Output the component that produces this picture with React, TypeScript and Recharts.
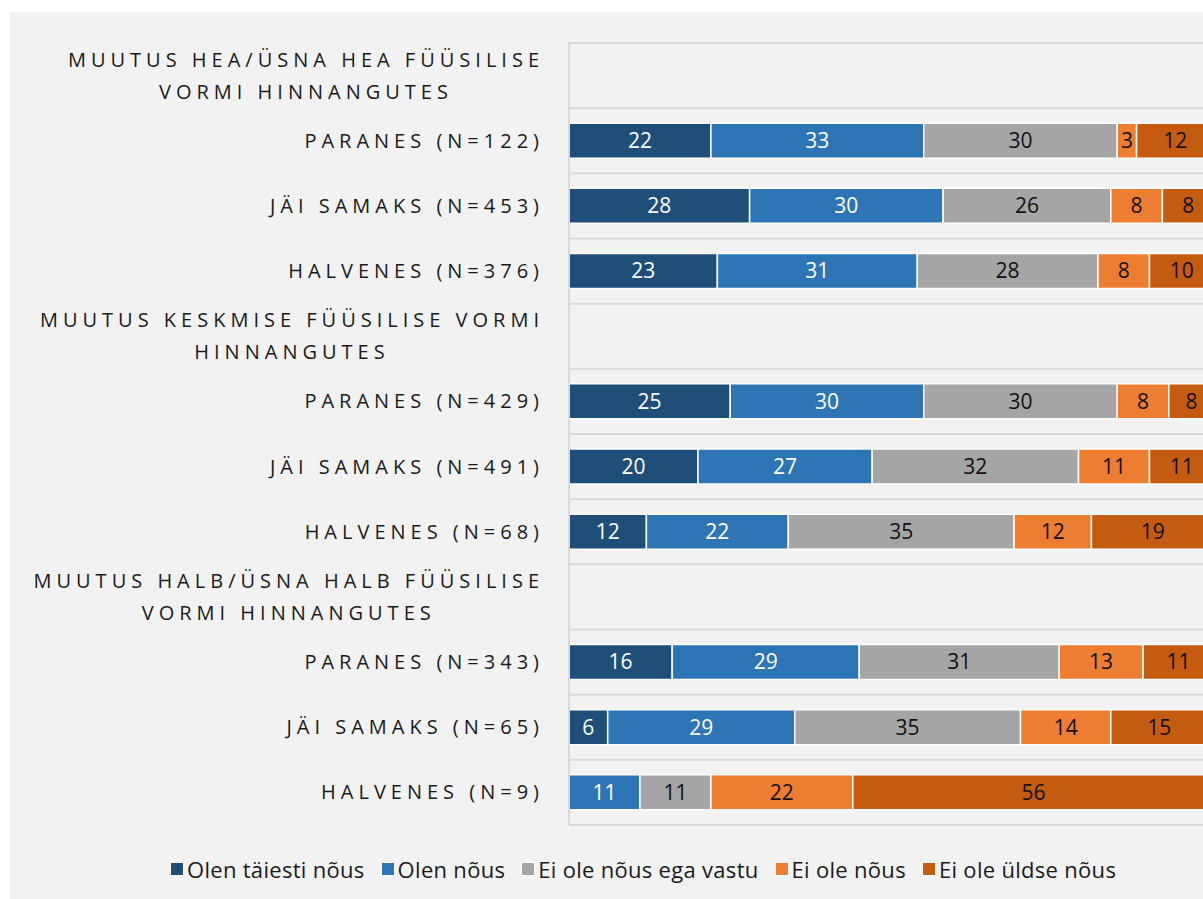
import React from "react";
import { Bar, BarChart, CartesianGrid, LabelList, Legend, XAxis, YAxis } from "recharts";

const categories = [
  "MUUTUS HEA/ÜSNA HEA FÜÜSILISE\nVORMI HINNANGUTES",
  "PARANES (N=122)",
  "JÄI SAMAKS (N=453)",
  "HALVENES (N=376)",
  "MUUTUS KESKMISE FÜÜSILISE VORMI\nHINNANGUTES",
  "PARANES (N=429)",
  "JÄI SAMAKS (N=491)",
  "HALVENES (N=68)",
  "MUUTUS HALB/ÜSNA HALB FÜÜSILISE\nVORMI HINNANGUTES",
  "PARANES (N=343)",
  "JÄI SAMAKS (N=65)",
  "HALVENES (N=9)",
];

// header rows have no bars
const taiestiNous = [0, 22, 28, 23, 0, 25, 20, 12, 0, 16, 6, 0];
const nous = [0, 33, 30, 31, 0, 30, 27, 22, 0, 29, 29, 11];
const egaVastu = [0, 30, 26, 28, 0, 30, 32, 35, 0, 31, 35, 11];
const eiNous = [0, 3, 8, 8, 0, 8, 11, 12, 0, 13, 14, 22];
const yldseEi = [0, 12, 8, 10, 0, 8, 11, 19, 0, 11, 15, 56];

const series = [
  { key: "s1", name: "Olen täiesti nõus", values: taiestiNous, color: "#1f4e79", text: "#ffffff" },
  { key: "s2", name: "Olen nõus", values: nous, color: "#2e75b6", text: "#ffffff" },
  { key: "s3", name: "Ei ole nõus ega vastu", values: egaVastu, color: "#a5a5a5", text: "#111111" },
  { key: "s4", name: "Ei ole nõus", values: eiNous, color: "#ed7d31", text: "#111111" },
  { key: "s5", name: "Ei ole üldse nõus", values: yldseEi, color: "#c55a11", text: "#111111" },
];

const data = categories.map((name, i) => {
  const row: Record<string, string | number> = { name };
  series.forEach((s) => (row[s.key] = s.values[i]));
  return row;
});

const FONT = "'Open Sans', 'Noto Sans', sans-serif";
const TICK_SPACING = 5;
const TICK_SIZE = 20;

let ctx: CanvasRenderingContext2D | null = null;
function measure(text: string): number {
  if (!ctx) ctx = document.createElement("canvas").getContext("2d");
  if (!ctx) return text.length * 12;
  ctx.font = `${TICK_SIZE}px ${FONT}`;
  (ctx as any).letterSpacing = `${TICK_SPACING}px`;
  return ctx.measureText(text).width;
}

function CategoryTick({ x, y, payload }: any) {
  const lines = String(payload.value).split("\n");
  const widths = lines.map(measure);
  const w = Math.max(...widths);
  const cx = x - w / 2 + TICK_SPACING;
  return (
    <g>
      {lines.map((line, i) => (
        <text
          key={i}
          x={cx}
          y={y + (i - (lines.length - 1) / 2) * 32}
          dy="0.35em"
          textAnchor="middle"
          fill="#1a1a1a"
          fontSize={TICK_SIZE}
          fontFamily={FONT}
          letterSpacing={TICK_SPACING}
        >
          {line}
        </text>
      ))}
    </g>
  );
}

function LegendContent() {
  return (
    <div style={{ display: "flex", alignItems: "center", fontFamily: FONT, fontSize: 22, letterSpacing: 0.3, color: "#1a1a1a" }}>
      {series.map((s) => (
        <div key={s.key} style={{ display: "flex", alignItems: "center", marginRight: 16 }}>
          <span style={{ width: 12, height: 12, background: s.color, border: "1px solid #fff", marginRight: 3 }} />
          <span>{s.name}</span>
        </div>
      ))}
    </div>
  );
}

export default function App() {
  return (
    <div
      style={{
        position: "absolute",
        left: 10,
        top: 12,
        width: 1193,
        height: 887,
        background: "#f2f2f2",
        overflow: "hidden",
      }}
    >
      <BarChart
        width={1204}
        height={887}
        data={data}
        layout="vertical"
        margin={{ top: 31, right: 0, bottom: 46, left: 0 }}
        barSize={35}
      >
        <CartesianGrid
          vertical={false}
          stroke="#d9d9d9"
          strokeWidth={2}
          horizontalCoordinatesGenerator={({ offset }: any) =>
            categories.map((_, i) => offset.top + (i * offset.height) / categories.length).concat(offset.top + offset.height)
          }
        />
        <XAxis type="number" domain={[0, 100]} allowDataOverflow hide />
        <YAxis
          type="category"
          dataKey="name"
          width={559}
          axisLine={{ stroke: "#d9d9d9", strokeWidth: 2 }}
          tickLine={false}
          tick={<CategoryTick />}
          tickMargin={24}
          interval={0}
        />
        <Legend
          verticalAlign="bottom"
          content={<LegendContent />}
          wrapperStyle={{ left: 160, bottom: 17, width: "auto", height: 28 }}
        />
        {series.map((s) => (
          <Bar
            key={s.key}
            dataKey={s.key}
            name={s.name}
            stackId="a"
            fill={s.color}
            stroke="#ffffff"
            strokeWidth={1.5}
            isAnimationActive={false}
          >
            <LabelList
              dataKey={s.key}
              position="center"
              fill={s.text}
              fontSize={21}
              fontFamily={FONT}
              formatter={(v: any) => (v ? v : "")}
            />
          </Bar>
        ))}
      </BarChart>
    </div>
  );
}
